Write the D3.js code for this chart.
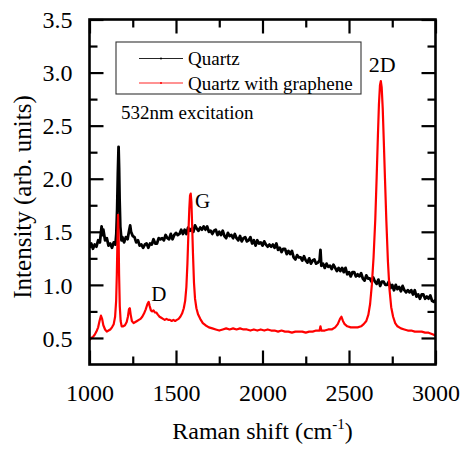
<!DOCTYPE html>
<html>
<head>
<meta charset="utf-8">
<script src="https://cdn.jsdelivr.net/npm/d3@7"></script>
<style>
  html, body { margin: 0; padding: 0; background: #fff; }
  svg { display: block; }
  text { font-family: "Liberation Serif", "Times New Roman", serif; fill: #000; }
</style>
</head>
<body>
<svg id="chart" width="461" height="451"></svg>
<script>
// ---------------- DATA ----------------
const xTicksMajor = [1000, 1500, 2000, 2500, 3000];
const xTicksMinor = [1250, 1750, 2250, 2750];
const yTicksMajor = [0.5, 1.0, 1.5, 2.0, 2.5, 3.0, 3.5];
const yTicksMinor = [0.75, 1.25, 1.75, 2.25, 2.75, 3.25];
const seriesNames = ["Quartz", "Quartz with graphene"];
const peakLabels = [
  { text: "2D", shift: 2684, value: 2.92 },
  { text: "G", shift: 1584, value: 1.86 },
  { text: "D", shift: 1342, value: 0.84 }
];
const annotation = "532nm excitation";

// Quartz (black) spectrum: [Raman shift, intensity]
const quartz = [
  [1000,1.35],[1010,1.39],[1020,1.34],[1030,1.38],[1040,1.36],[1050,1.42],[1060,1.40],[1070,1.55],[1075,1.47],[1080,1.52],
  [1090,1.42],[1100,1.44],[1110,1.37],[1120,1.39],[1130,1.35],[1140,1.40],[1150,1.38],[1155,1.48],[1160,1.72],[1164,2.05],
  [1168,2.30],[1171,2.10],[1174,1.80],[1178,1.55],[1185,1.42],[1190,1.45],[1200,1.40],[1210,1.45],[1220,1.43],[1230,1.52],
  [1235,1.56],[1240,1.50],[1250,1.46],
  [1260,1.45],[1270,1.40],[1280,1.42],[1290,1.37],[1300,1.38],[1310,1.35],[1320,1.38],[1330,1.39],[1340,1.35],[1350,1.39],
  [1360,1.38],[1370,1.43],[1380,1.39],[1390,1.39],[1400,1.44],[1410,1.43],[1420,1.44],[1430,1.42],[1440,1.47],[1450,1.44],
  [1460,1.43],[1470,1.48],[1480,1.43],[1490,1.47],[1500,1.49],[1510,1.47],[1520,1.48],[1530,1.52],[1540,1.48],[1550,1.52],
  [1560,1.48],[1570,1.54],[1580,1.51],[1590,1.53],[1600,1.50],[1610,1.56],[1620,1.53],[1630,1.51],[1640,1.54],[1650,1.52],
  [1660,1.55],[1670,1.52],[1680,1.55],[1690,1.50],[1700,1.51],[1710,1.48],[1720,1.51],[1730,1.52],[1740,1.47],[1750,1.50],
  [1760,1.47],[1770,1.51],[1780,1.46],[1790,1.44],[1800,1.49],[1810,1.46],[1820,1.47],[1830,1.44],[1840,1.48],[1850,1.44],
  [1860,1.42],[1870,1.46],[1880,1.41],[1890,1.44],[1900,1.45],[1910,1.41],[1920,1.42],[1930,1.45],[1940,1.39],[1950,1.42],
  [1960,1.37],[1970,1.42],[1980,1.39],[1990,1.40],[2000,1.37],[2010,1.41],[2020,1.38],[2030,1.36],[2040,1.38],[2050,1.36],
  [2060,1.38],[2070,1.35],[2080,1.39],[2090,1.33],[2100,1.35],[2110,1.31],[2120,1.34],[2130,1.34],[2140,1.29],[2150,1.32],
  [2160,1.29],[2170,1.32],[2180,1.26],[2190,1.24],[2200,1.28],[2210,1.26],[2220,1.26],[2230,1.23],[2240,1.27],[2250,1.23],
  [2260,1.21],[2270,1.25],[2280,1.20],[2290,1.23],[2300,1.24],[2310,1.20],[2320,1.21],[2330,1.23],[2335,1.33],[2340,1.18],
  [2350,1.20],[2360,1.16],[2370,1.20],[2380,1.17],[2390,1.18],[2400,1.15],[2410,1.19],[2420,1.16],[2430,1.13],[2440,1.16],
  [2450,1.13],[2460,1.16],[2470,1.12],[2480,1.16],[2490,1.10],[2500,1.12],[2510,1.08],[2520,1.12],[2530,1.12],[2540,1.08],
  [2550,1.10],[2560,1.08],[2570,1.11],[2580,1.06],[2590,1.04],[2600,1.09],[2610,1.06],[2620,1.06],[2630,1.03],[2640,1.07],
  [2650,1.03],[2660,1.01],[2670,1.05],[2680,0.99],[2690,1.03],[2700,1.03],[2710,1.00],[2720,1.00],[2730,1.03],[2740,0.97],
  [2750,1.00],[2760,0.95],[2770,1.00],[2780,0.96],[2790,0.98],[2800,0.94],[2810,0.99],[2820,0.95],[2830,0.93],[2840,0.95],
  [2850,0.93],[2860,0.95],[2870,0.91],[2880,0.95],[2890,0.89],[2900,0.91],[2910,0.87],[2920,0.91],[2930,0.91],[2940,0.87],
  [2950,0.89],[2960,0.87],[2970,0.90],[2980,0.85],[2990,0.84],[3000,0.86]
];

// Quartz with graphene (red) spectrum: [Raman shift, intensity]
const graphene = [
  [1000,0.48],[1010,0.50],[1020,0.51],[1030,0.53],[1040,0.56],[1050,0.60],[1058,0.66],[1066,0.71],[1073,0.68],[1080,0.62],
  [1090,0.58],[1100,0.56],[1110,0.57],[1120,0.58],[1130,0.60],[1140,0.63],[1148,0.70],[1154,0.85],[1158,1.10],[1162,1.45],
  [1165,1.66],[1168,1.50],[1171,1.10],[1175,0.80],[1180,0.66],[1186,0.61],[1195,0.61],[1205,0.62],[1215,0.65],[1222,0.70],
  [1228,0.77],[1233,0.78],[1238,0.72],[1245,0.66],[1255,0.64],[1265,0.65],[1275,0.66],[1285,0.67],[1295,0.68],[1305,0.70],
  [1315,0.73],[1325,0.77],[1335,0.82],[1342,0.84],[1348,0.80],[1355,0.76],[1362,0.75],[1370,0.76],[1378,0.74],[1386,0.74],
  [1395,0.72],[1405,0.70],[1415,0.69],[1425,0.68],[1435,0.67],[1445,0.68],[1455,0.67],[1465,0.67],[1475,0.66],[1485,0.67],
  [1495,0.66],[1505,0.67],[1515,0.68],[1525,0.70],[1535,0.73],[1545,0.78],[1553,0.85],[1560,0.98],[1566,1.20],[1572,1.50],
  [1577,1.72],[1581,1.84],[1585,1.86],[1589,1.78],[1593,1.58],[1598,1.30],[1604,1.02],[1610,0.87],[1618,0.78],[1628,0.72],
  [1640,0.68],[1655,0.64],[1670,0.62],[1690,0.60],[1710,0.59],[1730,0.58],[1750,0.57],[1770,0.58],[1790,0.59],[1810,0.58],
  [1830,0.59],[1850,0.58],[1870,0.59],[1890,0.58],[1910,0.58],[1930,0.57],[1950,0.58],[1970,0.57],[1990,0.58],[2010,0.57],
  [2030,0.58],[2050,0.57],[2070,0.57],[2090,0.56],[2110,0.57],[2130,0.56],[2150,0.56],[2170,0.55],[2190,0.56],[2210,0.56],
  [2230,0.56],[2250,0.55],[2270,0.56],[2290,0.56],[2310,0.57],[2330,0.57],[2335,0.61],[2340,0.57],[2360,0.57],[2380,0.58],
  [2400,0.58],[2420,0.60],[2435,0.63],[2448,0.68],[2456,0.70],[2465,0.66],[2475,0.63],[2490,0.61],[2510,0.60],[2530,0.60],
  [2550,0.60],[2570,0.61],[2585,0.63],[2600,0.66],[2612,0.72],[2622,0.82],[2632,1.00],[2642,1.26],[2652,1.62],[2660,2.02],
  [2667,2.40],[2673,2.70],[2679,2.88],[2684,2.92],[2689,2.86],[2695,2.66],[2701,2.36],[2708,2.00],[2716,1.60],[2725,1.22],
  [2734,0.96],[2744,0.79],[2755,0.70],[2767,0.64],[2780,0.61],[2800,0.59],[2820,0.58],[2840,0.57],[2860,0.57],[2880,0.56],
  [2900,0.56],[2920,0.56],[2940,0.55],[2960,0.55],[2975,0.54],[2990,0.53],[3000,0.52]
];

// ---------------- LAYOUT ----------------
const svg = d3.select("#chart");
const pLeft = 89.5, pRight = 435.5, pTop = 19.5, pBottom = 364.5;
const fontTick = 24;

const x = d3.scaleLinear().domain([1000, 3000]).range([pLeft, pRight]);
const y = d3.scaleLinear().domain([0.25, 3.5]).range([pBottom, pTop]);

svg.append("defs").append("clipPath").attr("id", "clip")
  .append("rect").attr("x", pLeft).attr("y", pTop).attr("width", pRight - pLeft).attr("height", pBottom - pTop);

const line = d3.line().x(d => x(d[0])).y(d => y(d[1]));

const plot = svg.append("g").attr("clip-path", "url(#clip)");
plot.append("path").datum(quartz).attr("d", line)
  .attr("fill", "none").attr("stroke", "#000").attr("stroke-width", 2.8).attr("stroke-linejoin", "round");
plot.append("path").datum(graphene).attr("d", line)
  .attr("fill", "none").attr("stroke", "#ff0000").attr("stroke-width", 2.2).attr("stroke-linejoin", "round");

// ---------------- AXES ----------------
function styleAxis(g) {
  g.select(".domain").remove();
  g.selectAll(".tick line").attr("stroke", "#000").attr("stroke-width", 2.2);
}
const gb = svg.append("g").attr("transform", `translate(0,${pBottom})`)
  .call(d3.axisBottom(x).tickValues(xTicksMajor).tickFormat(d3.format("d")).tickSizeInner(-14).tickSizeOuter(0));
styleAxis(gb);
gb.selectAll(".tick text").attr("y", 36).attr("dy", 0).attr("font-size", fontTick)
  .attr("font-family", "Liberation Serif, serif").attr("fill", "#000");
svg.append("g").attr("transform", `translate(0,${pBottom})`)
  .call(d3.axisBottom(x).tickValues(xTicksMinor).tickFormat("").tickSizeInner(-8).tickSizeOuter(0)).call(styleAxis);
svg.append("g").attr("transform", `translate(0,${pTop})`)
  .call(d3.axisTop(x).tickValues(xTicksMajor).tickFormat("").tickSizeInner(-14).tickSizeOuter(0)).call(styleAxis);
svg.append("g").attr("transform", `translate(0,${pTop})`)
  .call(d3.axisTop(x).tickValues(xTicksMinor).tickFormat("").tickSizeInner(-8).tickSizeOuter(0)).call(styleAxis);
const gl = svg.append("g").attr("transform", `translate(${pLeft},0)`)
  .call(d3.axisLeft(y).tickValues(yTicksMajor).tickFormat(d3.format(".1f")).tickSizeInner(-14).tickSizeOuter(0).tickPadding(17));
styleAxis(gl);
gl.selectAll(".tick text").attr("font-size", fontTick).attr("dy", "0.34em")
  .attr("font-family", "Liberation Serif, serif").attr("fill", "#000");
svg.append("g").attr("transform", `translate(${pLeft},0)`)
  .call(d3.axisLeft(y).tickValues(yTicksMinor).tickFormat("").tickSizeInner(-8).tickSizeOuter(0)).call(styleAxis);
svg.append("g").attr("transform", `translate(${pRight},0)`)
  .call(d3.axisRight(y).tickValues(yTicksMajor).tickFormat("").tickSizeInner(-14).tickSizeOuter(0)).call(styleAxis);
svg.append("g").attr("transform", `translate(${pRight},0)`)
  .call(d3.axisRight(y).tickValues(yTicksMinor).tickFormat("").tickSizeInner(-8).tickSizeOuter(0)).call(styleAxis);

svg.append("rect").attr("x", pLeft).attr("y", pTop).attr("width", pRight - pLeft).attr("height", pBottom - pTop)
  .attr("fill", "none").attr("stroke", "#000").attr("stroke-width", 2.6);

// ---------------- LABELS ----------------
const xl = svg.append("text").attr("x", (pLeft + pRight) / 2).attr("y", 439)
  .attr("text-anchor", "middle").attr("font-size", 24);
xl.append("tspan").text("Raman shift (cm");
xl.append("tspan").text("-1").attr("font-size", 15).attr("dy", -10);
xl.append("tspan").text(")").attr("dy", 10);

svg.append("text").attr("transform", `translate(31,197) rotate(-90)`)
  .attr("text-anchor", "middle").attr("font-size", 25).text("Intensity (arb. units)");

const lg = svg.append("g");
lg.append("rect").attr("x", 116).attr("y", 42).attr("width", 245).attr("height", 52)
  .attr("fill", "#fff").attr("stroke", "#333").attr("stroke-width", 1.1);
const legendColors = ["#000", "#ff0000"];
seriesNames.forEach((name, i) => {
  const ly = 58.5 + i * 24.5;
  lg.append("line").attr("x1", 139).attr("x2", 183).attr("y1", ly).attr("y2", ly)
    .attr("stroke", legendColors[i]).attr("stroke-width", 1.2).attr("opacity", 0.85);
  lg.append("circle").attr("cx", 161).attr("cy", ly).attr("r", 1).attr("fill", legendColors[i]);
  lg.append("text").attr("x", 188).attr("y", ly + 6.5).attr("font-size", 19).text(name);
});

svg.append("text").attr("x", 121).attr("y", 119).attr("font-size", 19).text(annotation);

const peakOffsets = { "2D": [-12, -9.5, 22], "G": [4.5, 14.5, 21], "D": [2.5, -1, 21] };
peakLabels.forEach(p => {
  const o = peakOffsets[p.text];
  svg.append("text").attr("x", x(p.shift) + o[0]).attr("y", y(p.value) + o[1])
    .attr("font-size", o[2]).text(p.text);
});
</script>
</body>
</html>
